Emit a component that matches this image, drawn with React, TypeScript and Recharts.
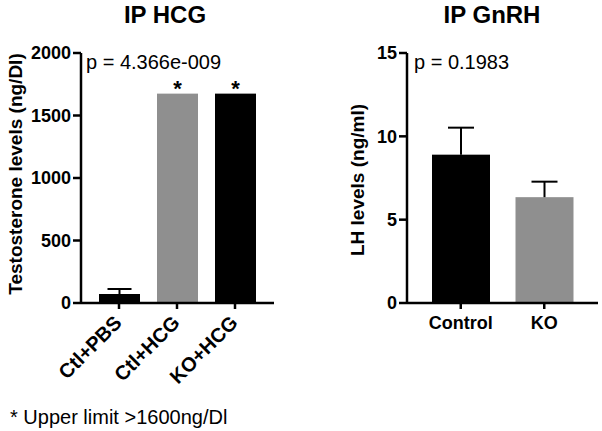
import React from "react";
import { BarChart, Bar, XAxis, YAxis, LabelList } from "recharts";

const hcgCategories = ["Ctl+PBS", "Ctl+HCG", "KO+HCG"];
const hcgValues = [72, 1675, 1675];
const hcgErrors = [40, 0, 0];
const hcgStars = ["", "*", "*"];
const hcgColors = ["#000000", "#8f8f8f", "#000000"];
const hcgTicks = [0, 500, 1000, 1500, 2000];

const gnrhCategories = ["Control", "KO"];
const gnrhValues = [8.9, 6.35];
const gnrhErrors = [1.62, 0.93];
const gnrhColors = ["#000000", "#8f8f8f"];
const gnrhTicks = [0, 5, 10, 15];

const hcgData = hcgCategories.map((name, i) => ({
  name,
  value: hcgValues[i],
  err: hcgErrors[i],
  star: hcgStars[i],
  color: hcgColors[i],
}));

const gnrhData = gnrhCategories.map((name, i) => ({
  name,
  value: gnrhValues[i],
  err: gnrhErrors[i],
  color: gnrhColors[i],
}));

const FONT = "'Liberation Sans', Arial, Helvetica, sans-serif";

const makeShape = (capW: number) => (props: any) => {
  const { x, y, width, height, payload } = props;
  const v = payload.value;
  const err = payload.err;
  const cx = x + width / 2;
  const ep = v ? (height * err) / v : 0;
  return (
    <g>
      <rect x={x} y={y} width={width} height={height} fill={payload.color} />
      {err > 0 && (
        <g>
          <line x1={cx} x2={cx} y1={y} y2={y - ep} stroke="#000" strokeWidth={2} />
          <line x1={cx - capW / 2} x2={cx + capW / 2} y1={y - ep} y2={y - ep} stroke="#000" strokeWidth={2} />
        </g>
      )}
    </g>
  );
};

const RotTick = (props: any) => {
  const { x, y, payload } = props;
  return (
    <g transform={`translate(${x + 4},${y + 13})`}>
      <text textAnchor="end" transform="rotate(-45)" fontWeight="bold" fontSize={20} fill="#000" fontFamily={FONT}>
        {payload.value}
      </text>
    </g>
  );
};

const StarLabel = (props: any) => {
  const { x, y, width, value } = props;
  if (!value) return null;
  return (
    <text x={x + width / 2} y={y + 2} textAnchor="middle" fontSize={22} fontWeight="bold" fill="#000" fontFamily={FONT}>
      {value}
    </text>
  );
};

const axisLine = { stroke: "#000", strokeWidth: 2.5 };
const tickStyle = { fontSize: 18, fontWeight: "bold", fill: "#000", fontFamily: FONT };

const abs = (left: number, top: number, extra: any = {}): React.CSSProperties => ({
  position: "absolute",
  left,
  top,
  whiteSpace: "nowrap",
  color: "#000",
  ...extra,
});

export default function App() {
  return (
    <div style={{ position: "absolute", left: 0, top: 0, width: 602, height: 431, background: "#fff", fontFamily: FONT }}>
      <div style={{ position: "absolute", left: 0, top: 0 }}>
        <BarChart width={300} height={431} data={hcgData} margin={{ top: 53, right: 26, left: 0, bottom: 0 }}>
          <XAxis
            dataKey="name"
            height={128}
            padding={{ left: 9, right: 10 }}
            axisLine={axisLine}
            tickLine={axisLine}
            tickSize={6}
            tickMargin={2}
            interval={0}
            tick={<RotTick />}
          />
          <YAxis
            width={81}
            domain={[0, 2000]}
            ticks={hcgTicks}
            interval={0}
            axisLine={axisLine}
            tickLine={axisLine}
            tickSize={8}
            tickMargin={2}
            tick={tickStyle}
            label={{
              content: () => (
                <text
                  x={15}
                  y={174}
                  transform="rotate(-90 15 174)"
                  textAnchor="middle"
                  dominantBaseline="central"
                  fontSize={19}
                  fontWeight="bold"
                  fill="#000"
                  fontFamily={FONT}
                >
                  Testosterone levels (ng/Dl)
                </text>
              ),
            }}
          />
          <Bar dataKey="value" barSize={41} isAnimationActive={false} shape={makeShape(24)}>
            <LabelList dataKey="star" content={<StarLabel />} />
          </Bar>
        </BarChart>
      </div>
      <div style={{ position: "absolute", left: 300, top: 0 }}>
        <BarChart width={302} height={431} data={gnrhData} margin={{ top: 53, right: 4, left: 0, bottom: 0 }}>
          <XAxis
            dataKey="name"
            height={128}
            padding={{ left: 12, right: 12 }}
            axisLine={axisLine}
            tickLine={axisLine}
            tickSize={6}
            tickMargin={7}
            interval={0}
            tick={tickStyle}
          />
          <YAxis
            width={107}
            domain={[0, 15]}
            ticks={gnrhTicks}
            interval={0}
            axisLine={axisLine}
            tickLine={axisLine}
            tickSize={8}
            tickMargin={2}
            tick={tickStyle}
            label={{
              content: () => (
                <text
                  x={57}
                  y={180}
                  transform="rotate(-90 57 180)"
                  textAnchor="middle"
                  dominantBaseline="central"
                  fontSize={19}
                  fontWeight="bold"
                  fill="#000"
                  fontFamily={FONT}
                >
                  LH levels (ng/ml)
                </text>
              ),
            }}
          />
          <Bar dataKey="value" barSize={58} isAnimationActive={false} shape={makeShape(26)} />
        </BarChart>
      </div>
      <div style={abs(65, 0, { width: 200, textAlign: "center", fontSize: 24, fontWeight: "bold", lineHeight: "30px" })}>IP HCG</div>
      <div style={abs(392, 0, { width: 200, textAlign: "center", fontSize: 24, fontWeight: "bold", lineHeight: "30px" })}>IP GnRH</div>
      <div style={abs(86, 50, { fontSize: 20, lineHeight: "24px" })}>p = 4.366e-009</div>
      <div style={abs(414, 50, { fontSize: 20, lineHeight: "24px" })}>p = 0.1983</div>
      <div style={abs(10, 405, { fontSize: 20, lineHeight: "24px" })}>* Upper limit &gt;1600ng/Dl</div>
    </div>
  );
}
